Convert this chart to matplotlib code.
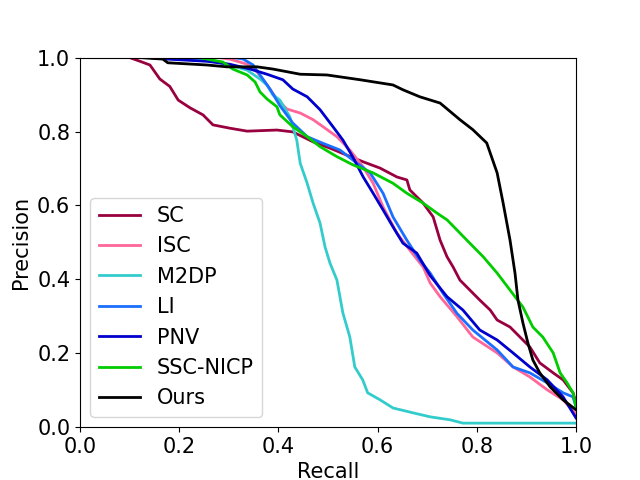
import matplotlib
matplotlib.use("Agg")
import matplotlib.pyplot as plt

sc_r = [0.10, 0.121, 0.141, 0.161, 0.181, 0.198, 0.222, 0.248, 0.268, 0.302, 0.337, 0.397, 0.429, 0.470,
        0.504, 0.538, 0.571, 0.605, 0.639, 0.659, 0.665, 0.692, 0.712, 0.726, 0.740, 0.752, 0.766, 0.786,
        0.806, 0.827, 0.841, 0.867, 0.887, 0.907, 0.927, 0.954, 0.974, 0.994, 1.0]
sc_p = [1.0, 0.990, 0.980, 0.942, 0.922, 0.885, 0.864, 0.845, 0.818, 0.809, 0.801, 0.804, 0.799, 0.772,
        0.755, 0.736, 0.718, 0.701, 0.677, 0.669, 0.642, 0.606, 0.569, 0.506, 0.461, 0.434, 0.398, 0.371,
        0.344, 0.317, 0.290, 0.271, 0.244, 0.217, 0.174, 0.147, 0.128, 0.093, 0.066]

isc_r = [0.28, 0.302, 0.337, 0.357, 0.377, 0.397, 0.417, 0.444, 0.470, 0.490, 0.518, 0.544, 0.571, 0.591,
         0.611, 0.639, 0.665, 0.692, 0.706, 0.726, 0.760, 0.792, 0.841, 0.873, 0.907, 0.942, 0.974, 1.0]
isc_p = [1.0, 0.996, 0.982, 0.961, 0.926, 0.888, 0.861, 0.850, 0.832, 0.813, 0.786, 0.750, 0.704, 0.660,
         0.596, 0.525, 0.479, 0.433, 0.390, 0.353, 0.299, 0.244, 0.201, 0.163, 0.136, 0.101, 0.074, 0.035]

m2dp_r = [0.17, 0.256, 0.302, 0.337, 0.363, 0.377, 0.389, 0.403, 0.423, 0.437, 0.444, 0.458, 0.470, 0.484,
          0.494, 0.504, 0.518, 0.530, 0.544, 0.554, 0.57, 0.58, 0.605, 0.631, 0.671, 0.706, 0.746, 0.772, 1.0]
m2dp_p = [1.0, 0.994, 0.980, 0.966, 0.942, 0.926, 0.899, 0.885, 0.840, 0.777, 0.714, 0.660, 0.606, 0.552,
          0.488, 0.444, 0.398, 0.309, 0.244, 0.163, 0.128, 0.093, 0.074, 0.052, 0.039, 0.028, 0.020, 0.011, 0.011]

li_r = [0.31, 0.329, 0.349, 0.363, 0.383, 0.403, 0.429, 0.458, 0.490, 0.524, 0.550, 0.585, 0.611, 0.631,
        0.659, 0.685, 0.706, 0.732, 0.760, 0.792, 0.841, 0.873, 0.907, 0.942, 0.974, 0.994, 1.0]
li_p = [1.0, 0.996, 0.980, 0.953, 0.915, 0.870, 0.823, 0.786, 0.768, 0.750, 0.723, 0.688, 0.633, 0.569,
        0.506, 0.452, 0.417, 0.362, 0.308, 0.263, 0.209, 0.163, 0.147, 0.120, 0.093, 0.082, 0.055]

pnv_r = [0.14, 0.175, 0.256, 0.302, 0.343, 0.377, 0.409, 0.429, 0.458, 0.484, 0.510, 0.530, 0.550, 0.571,
         0.591, 0.611, 0.631, 0.651, 0.679, 0.706, 0.740, 0.772, 0.806, 0.841, 0.873, 0.907, 0.942, 0.974, 1.0]
pnv_p = [1.0, 0.996, 0.990, 0.982, 0.969, 0.955, 0.940, 0.915, 0.894, 0.859, 0.813, 0.777, 0.731, 0.677,
         0.633, 0.588, 0.542, 0.498, 0.471, 0.410, 0.353, 0.317, 0.263, 0.236, 0.201, 0.163, 0.128, 0.082, 0.025]

ssc_r = [0.24, 0.256, 0.288, 0.308, 0.337, 0.353, 0.363, 0.377, 0.397, 0.403, 0.429, 0.458, 0.484, 0.518,
         0.550, 0.591, 0.631, 0.659, 0.692, 0.720, 0.740, 0.780, 0.813, 0.841, 0.867, 0.893, 0.913, 0.933,
         0.954, 0.968, 0.982, 0.994, 1.0]
ssc_p = [1.0, 0.996, 0.988, 0.969, 0.953, 0.934, 0.907, 0.888, 0.867, 0.845, 0.813, 0.786, 0.759, 0.732,
         0.710, 0.688, 0.660, 0.633, 0.606, 0.579, 0.561, 0.506, 0.461, 0.417, 0.371, 0.325, 0.271, 0.244,
         0.201, 0.147, 0.120, 0.093, 0.055]

ours_r = [0.12, 0.167, 0.177, 0.256, 0.296, 0.357, 0.389, 0.444, 0.498, 0.565, 0.631, 0.651, 0.685, 0.726,
          0.766, 0.792, 0.82, 0.841, 0.853, 0.867, 0.877, 0.883, 0.893, 0.903, 0.913, 0.927, 0.948, 0.974, 1.0]
ours_p = [1.0, 0.996, 0.986, 0.980, 0.975, 0.975, 0.969, 0.955, 0.953, 0.940, 0.926, 0.913, 0.894, 0.877,
          0.832, 0.805, 0.769, 0.688, 0.607, 0.506, 0.417, 0.344, 0.282, 0.228, 0.182, 0.147, 0.109, 0.074, 0.047]

series = [
    ("SC", sc_r, sc_p, "#990040"),
    ("ISC", isc_r, isc_p, "#ff6699"),
    ("M2DP", m2dp_r, m2dp_p, "#33cccc"),
    ("LI", li_r, li_p, "#1a6fff"),
    ("PNV", pnv_r, pnv_p, "#0000cc"),
    ("SSC-NICP", ssc_r, ssc_p, "#00cc00"),
    ("Ours", ours_r, ours_p, "#000000"),
]

plt.rcParams['font.size'] = 15
fig, ax = plt.subplots(figsize=(6.4, 4.8), dpi=100)
for name, r, p, c in series:
    ax.plot(r, p, color=c, linewidth=2, label=name)

ax.set_xlim(0, 1)
ax.set_ylim(0, 1)
ax.set_xlabel("Recall")
ax.set_ylabel("Precision")
ax.legend(loc="lower left")
fig.savefig("out.png", dpi=100)
